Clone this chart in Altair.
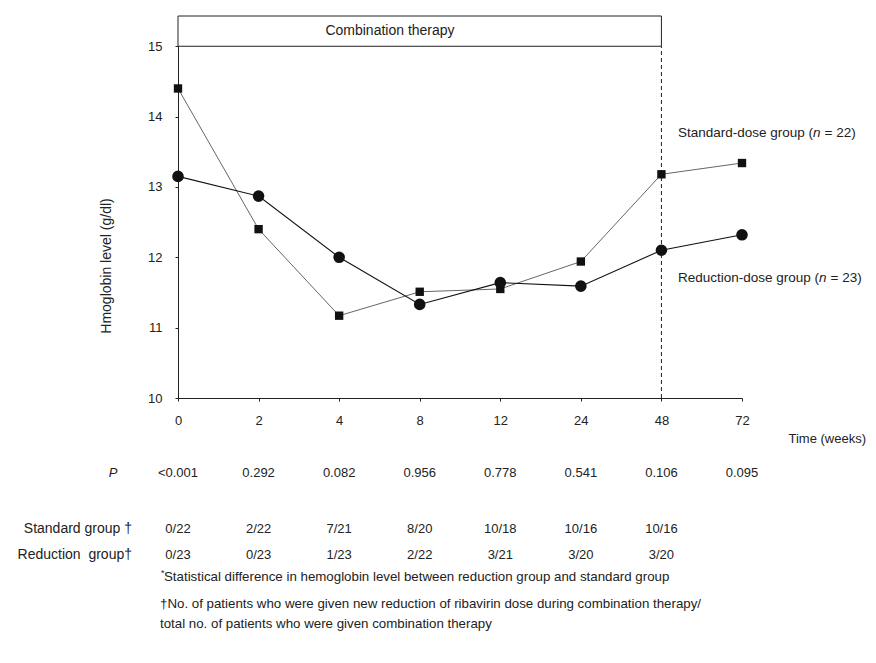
import altair as alt
import pandas as pd

FONT = "Liberation Sans"
INK = "#222222"

# ---- data ----
weeks = ["0", "2", "4", "8", "12", "24", "48", "72"]
standard = [14.40, 12.40, 11.17, 11.51, 11.55, 11.94, 13.18, 13.34]
reduction = [13.15, 12.87, 12.00, 11.33, 11.64, 11.59, 12.10, 12.32]
p_values = ["<0.001", "0.292", "0.082", "0.956", "0.778", "0.541", "0.106", "0.095"]
std_new_reduction = ["0/22", "2/22", "7/21", "8/20", "10/18", "10/16", "10/16"]
red_new_reduction = ["0/23", "0/23", "1/23", "2/22", "3/21", "3/20", "3/20"]
y_ticks = [10, 11, 12, 13, 14, 15]
therapy_end_week = "48"
therapy_hb = 15
y_top = 15.43

idx = list(range(len(weeks)))
n = len(weeks)

df_std = pd.DataFrame({"i": idx, "hb": standard})
df_red = pd.DataFrame({"i": idx, "hb": reduction})
df_p = pd.DataFrame({"i": idx, "t": p_values})
df_sr = pd.DataFrame({"i": idx[:len(std_new_reduction)], "t": std_new_reduction})
df_rr = pd.DataFrame({"i": idx[:len(red_new_reduction)], "t": red_new_reduction})
end_i = weeks.index(therapy_end_week)
df_box = pd.DataFrame({"i": [0], "i2": [end_i], "hb": [therapy_hb], "hb2": [y_top]})
df_vline = pd.DataFrame({"i": [end_i], "hb": [y_ticks[0]], "hb2": [therapy_hb]})

label_expr = "[" + ",".join(f"'{w}'" for w in weeks) + "][datum.value]"

x_scale = alt.Scale(domain=[0, n - 1], nice=False, zero=False)
y_scale = alt.Scale(domain=[y_ticks[0], y_top], nice=False, zero=False)

x_axis = alt.Axis(values=idx, labelExpr=label_expr, title=None, grid=False,
                  tickSize=3, labelPadding=13, labelFontSize=13, labelFont=FONT,
                  labelColor=INK, domainColor=INK, tickColor=INK, labelFlush=False)
y_axis = alt.Axis(values=y_ticks, title=None, grid=False, tickSize=3,
                  labelPadding=13, labelFontSize=13, labelFont=FONT,
                  labelColor=INK, domainColor=INK, tickColor=INK)

X = alt.X("i:Q", scale=x_scale, axis=x_axis)
Y = alt.Y("hb:Q", scale=y_scale, axis=y_axis)

box = alt.Chart(df_box).mark_rect(fill="white", stroke=INK, strokeWidth=1).encode(
    x=X, x2="i2:Q", y=Y, y2="hb2:Q")

vline = alt.Chart(df_vline).mark_rule(color=INK, strokeWidth=1, strokeDash=[4, 3]).encode(
    x=X, y=Y, y2="hb2:Q")

line_std = alt.Chart(df_std).mark_line(color="#666666", strokeWidth=1).encode(x=X, y=Y)
line_red = alt.Chart(df_red).mark_line(color="#111111", strokeWidth=1.1).encode(x=X, y=Y)
pts_std = alt.Chart(df_std).mark_point(shape="square", filled=True, size=70,
                                       color="#111111", opacity=1).encode(x=X, y=Y)
pts_red = alt.Chart(df_red).mark_circle(size=135, color="#111111", opacity=1).encode(x=X, y=Y)


def txt(text, x, y, size=13, align="left", italic=False, angle=None):
    kw = dict(text=text, font=FONT, fontSize=size, color=INK, align=align, baseline="middle")
    if italic:
        kw["fontStyle"] = "italic"
    if angle is not None:
        kw["angle"] = angle
    return alt.Chart(pd.DataFrame({"a": [0]})).mark_text(**kw).encode(
        x=alt.value(x), y=alt.value(y))


def row(df, y, size=13):
    return alt.Chart(df).mark_text(font=FONT, fontSize=size, color=INK,
                                   align="center", baseline="middle").encode(
        x=X, y=alt.value(y), text="t:N")


NB = "\u00a0"
annotations = [
    txt("Combination therapy", 212, 15, size=14, align="center"),
    txt("Hmoglobin level (g/dl)", -71, 250, size=14, align="center", angle=270),
    txt("Time (weeks)", 688, 423, size=13, align="right"),
    txt("Standard-dose group (", 500, 117, size=13.5),
    txt("n", 635.1, 117, size=13.5, italic=True),
    txt("=" + NB + "22)", 646.5, 117, size=13.5),
    txt("Reduction-dose group (", 500, 262, size=13.5),
    txt("n", 641.1, 262, size=13.5, italic=True),
    txt("=" + NB + "23)", 652.5, 262, size=13.5),
    txt("P", -65, 457, size=13, align="center", italic=True),
    txt("Standard group" + NB + "\u2020", -46, 513, size=14, align="right"),
    txt("Reduction" + NB + " group\u2020", -46, 539, size=14, align="right"),
    txt("*", -17, 557, size=9),
    txt("Statistical difference in hemoglobin level between reduction group and standard group",
        -14, 561, size=13.3),
    txt("\u2020No. of patients who were given new reduction of ribavirin dose during combination therapy/",
        -18, 588, size=13.3),
    txt("total no. of patients who were given combination therapy", -18, 608, size=13.3),
]

chart = alt.layer(
    box, vline, line_std, line_red, pts_std, pts_red,
    row(df_p, 457), row(df_sr, 513), row(df_rr, 539),
    *annotations,
).properties(
    width=564, height=382,
    autosize=alt.AutoSizeParams(type="none"),
    padding={"left": 170, "top": 8, "right": 124, "bottom": 250},
    background="white",
).configure_view(stroke=None)

chart.save("out.html", embed_options={"renderer": "svg", "actions": False})
